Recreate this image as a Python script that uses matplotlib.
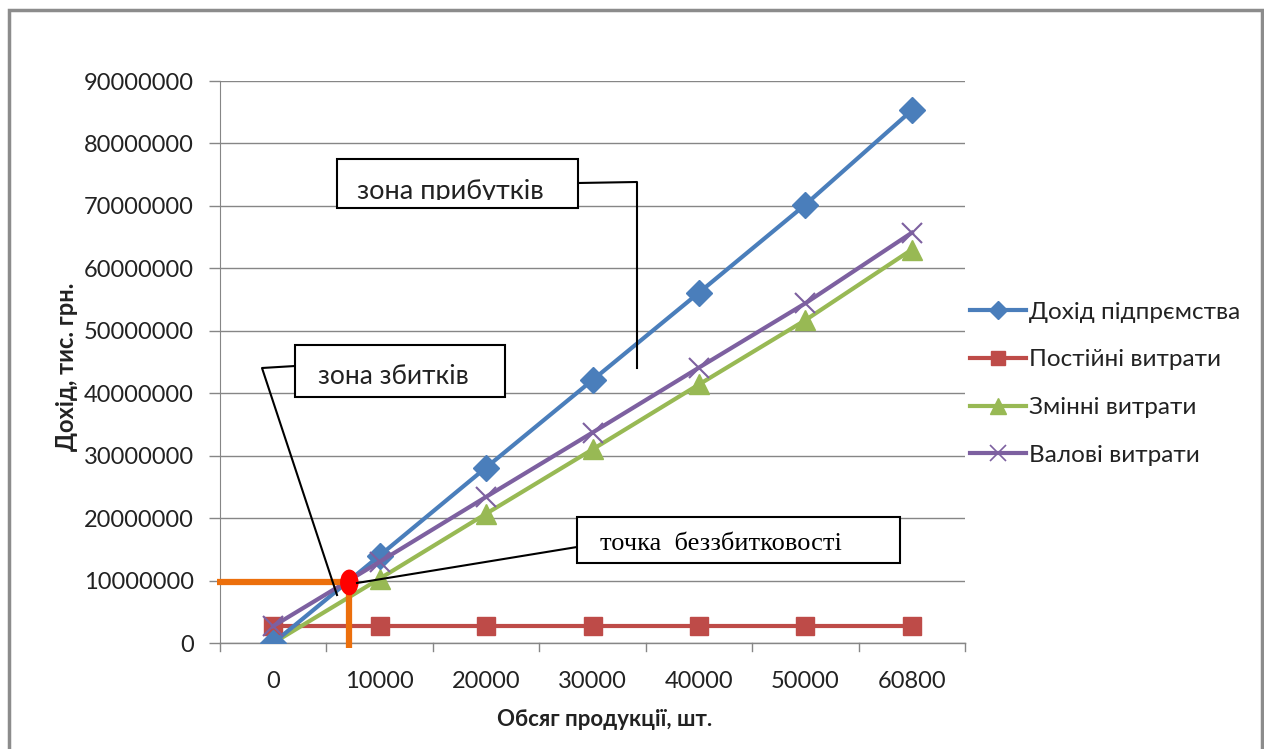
import matplotlib
matplotlib.use("Agg")
import matplotlib.pyplot as plt
from matplotlib.patches import Rectangle, Ellipse
from matplotlib.lines import Line2D

# ---- data ----
categories = ["0", "10000", "20000", "30000", "40000", "50000", "60800"]
revenue = [0, 14000000, 28100000, 42100000, 56100000, 70200000, 85300000]
fixed_costs = [2700000, 2700000, 2700000, 2700000, 2700000, 2700000, 2700000]
variable_costs = [0, 10300000, 20700000, 31000000, 41400000, 51700000, 63000000]
gross_costs = [2700000, 13000000, 23400000, 33700000, 44100000, 54400000, 65700000]
series_names = ["Дохід підпрємства", "Постійні витрати", "Змінні витрати", "Валові витрати"]
breakeven_qty = 7150
breakeven_value = 9700000
step_qty = 10000
y_ticks = [0, 10000000, 20000000, 30000000, 40000000, 50000000, 60000000, 70000000, 80000000, 90000000]

W, H = 1264, 749
fig = plt.figure(figsize=(W / 100, H / 100), dpi=100)
fig.patch.set_facecolor("white")

def fx(x):
    return x / W

def fy(y):
    return 1 - y / H

# outer frame
frame = Rectangle((fx(9), fy(800)), fx(1262) - fx(9), fy(10) - fy(800),
                  transform=fig.transFigure, fill=False, edgecolor="#8c8c8c", lw=2.5)
fig.patches.append(frame)

ax = fig.add_axes([fx(220), fy(643), fx(965) - fx(220), fy(81) - fy(643)])
FONT = "Lato"
TXT = "#222222"

xs = list(range(len(categories)))
colors = ["#4a7ebb", "#be4b48", "#98b954", "#7d60a0"]
ax.plot(xs, revenue, color=colors[0], lw=3, marker="D", ms=13, zorder=5)
ax.plot(xs, fixed_costs, color=colors[1], lw=3, marker="s", ms=13, zorder=4)
ax.plot(xs, variable_costs, color=colors[2], lw=3, marker="^", ms=15, zorder=4)
ax.plot(xs, gross_costs, color=colors[3], lw=3, marker="x", ms=15, mew=1.5, zorder=6)

ax.set_xlim(-0.5, len(categories) - 0.5)
ax.set_ylim(0, 90000000)
ax.set_yticks(y_ticks)
ax.set_yticklabels([str(v) for v in y_ticks], fontsize=17, fontfamily=FONT, color=TXT)
ax.set_xticks(xs)
ax.set_xticklabels(categories, fontsize=17, fontfamily=FONT, color=TXT)
ax.tick_params(axis="x", length=0, pad=20)
ax.tick_params(axis="y", length=8, width=1, color="#868686", pad=11)
# category boundary ticks
tick_len = 8 / (643 - 81)
bounds = [i - 0.5 for i in range(len(categories) + 1)]
for b in bounds:
    ax.plot([b, b], [0, -tick_len], transform=ax.get_xaxis_transform(), color="#868686", lw=1, clip_on=False)
ax.plot([bounds[0], bounds[-1]], [0, 0], transform=ax.get_xaxis_transform(), color="#868686", lw=1, clip_on=False)

ax.grid(axis="y", color="#868686", lw=1)
ax.set_axisbelow(True)
for s in ["top", "right", "bottom"]:
    ax.spines[s].set_visible(False)
ax.spines["left"].set_color("#868686")

fig.text(fx(605), fy(720), "Обсяг продукції, шт.", fontsize=16, fontweight="bold", fontfamily=FONT,
         ha="center", va="center", color=TXT)
fig.text(fx(66), fy(367), "Дохід, тис. грн.", fontsize=17, fontweight="bold", fontfamily=FONT,
         ha="center", va="center", rotation=90, color=TXT)

# break-even marks
be_x = breakeven_qty / step_qty
ax.plot([-0.53, be_x], [breakeven_value, breakeven_value], color="#ec6f0c", lw=4.5, clip_on=False, zorder=7,
        solid_capstyle="butt")
ax.plot([be_x, be_x], [breakeven_value, -800000], color="#ec6f0c", lw=4.5, clip_on=False, zorder=7,
        solid_capstyle="butt")
ell = Ellipse((be_x, breakeven_value), 0.16, 3900000, color="#ff0000", zorder=9)
ax.add_patch(ell)

# legend
handles = [
    Line2D([], [], color=colors[0], lw=3, marker="D", ms=9),
    Line2D([], [], color=colors[1], lw=3, marker="s", ms=10),
    Line2D([], [], color=colors[2], lw=3, marker="^", ms=11),
    Line2D([], [], color=colors[3], lw=3, marker="x", ms=11, mew=1.2),
]
fig.legend(handles, series_names, loc="upper left", bbox_to_anchor=(fx(960), fy(292)),
           frameon=False, prop={"family": FONT, "size": 17.5}, handlelength=2.3, handletextpad=0.15,
           labelspacing=1.1, borderaxespad=0, labelcolor=TXT)

# annotation callouts (figure pixel coords)
def fline(pts, **kw):
    xs_ = [fx(p[0]) for p in pts]
    ys_ = [fy(p[1]) for p in pts]
    fig.add_artist(Line2D(xs_, ys_, transform=fig.transFigure, color="black", lw=1.5, **kw))

def fbox(x0, y0, x1, y1):
    r = Rectangle((fx(x0), fy(y1)), fx(x1) - fx(x0), fy(y0) - fy(y1), transform=fig.transFigure,
                  facecolor="white", edgecolor="black", lw=1.5, zorder=10)
    fig.add_artist(r)
    return r

fline([(578, 183), (637, 182), (637, 368)])
fbox(337, 159, 578, 208)
clip1 = Rectangle((fx(338), fy(200)), fx(577) - fx(338), fy(160) - fy(200), transform=fig.transFigure,
                  fill=False, visible=False)
fig.add_artist(clip1)
t1 = fig.text(fx(357), fy(192), "зона прибутків", fontsize=19.5, fontfamily=FONT, va="center", ha="left",
              zorder=11, color=TXT)
t1.set_clip_path(clip1)

fline([(295, 366), (262, 368), (337, 595)])
fbox(295, 345, 505, 397)
fig.text(fx(318), fy(376), "зона збитків", fontsize=19, fontfamily=FONT, va="center", ha="left", zorder=11,
         color=TXT)

fline([(577, 547), (357, 583)])
fbox(577, 517, 900, 563)
fig.text(fx(600), fy(544), "точка  беззбитковості", fontsize=19, fontfamily="Liberation Serif",
         va="center", ha="left", zorder=11, color="black")

fig.savefig("out.png", dpi=100)
